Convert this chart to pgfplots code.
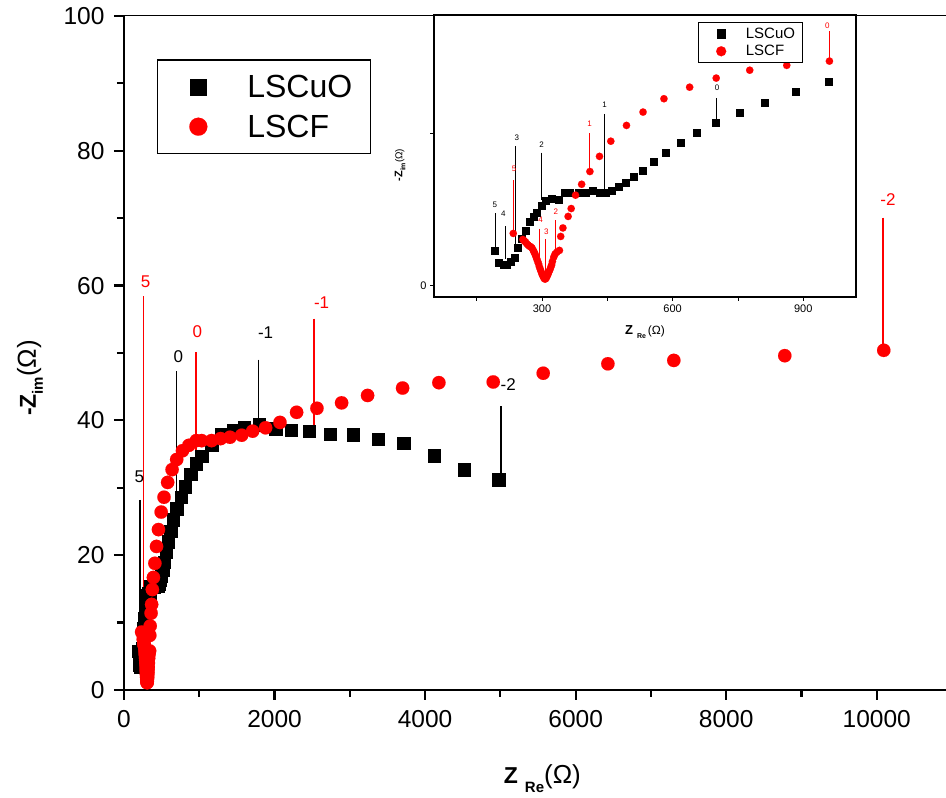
\documentclass[border=0pt]{standalone}
\usepackage{fontspec}
\setmainfont{Liberation Sans}
\usepackage{pgfplots}
\usepackage{pgfplotstable}
\pgfplotsset{compat=1.18}

\pgfplotsset{
  mainlegimg/.style={legend image code/.code={\path[draw=none] (-23pt,0pt) -- (49pt,0pt); \path[##1, draw=none] plot coordinates {(0pt,0pt)};}},
  insetlegimg/.style={legend image code/.code={\path[draw=none] (-15.7pt,0pt) -- (24.7pt,0pt); \path[##1, draw=none] plot coordinates {(0pt,0pt)};}},
}

\pgfplotstableread{
x y
192 5.8
200 3.8
211 3.4
219 3.5
228 4.0
238 4.7
243 6.2
253 7.8
262 9.1
272 10.6
280 11.3
288 12.0
299 13.2
308 14.0
322 14.3
337 14.2
351 15.4
364 15.4
385 15.4
401 15.3
415 15.6
431 15.4
445 15.4
459 15.7
475 16.3
491 17.0
510 17.9
531 19.0
555 20.5
583 22.0
617 23.6
655 25.3
698 26.9
754 28.6
810 30.2
882 32.0
957 33.6
1032 34.7
1164 36.4
1297 37.9
1452 38.6
1598 39.0
1797 39.4
2014 38.8
2218 38.6
2461 38.4
2736 38.0
3046 37.9
3378 37.2
3714 36.6
4117 34.8
4520 32.7
4976 31.2
}\lscuo

\pgfplotstableread{
x y
234 8.6
256 7.6
259 7.4
262 7.2
265 6.9
268 6.7
271 6.5
274 6.4
277 6.2
280 5.8
282 5.5
284 5.2
286 4.8
288 4.4
290 4.0
292 3.6
294 3.1
296 2.7
298 2.3
300 1.9
302 1.6
304 1.3
306 1.1
308 1.1
310 1.3
312 1.6
314 1.9
316 2.3
318 2.6
320 3.0
322 3.4
324 4.0
327 4.7
330 5.2
334 5.5
340 5.8
343 8.1
348 9.5
360 11.4
367 12.7
377 14.9
391 16.7
410 18.8
432 21.3
458 23.8
494 26.4
532 28.6
580 30.8
639 32.7
700 34.2
777 35.5
862 36.3
960 37.0
1032 37.0
1164 37.0
1284 37.3
1408 37.5
1563 37.8
1709 38.4
1881 38.9
2072 39.7
2293 41.2
2563 41.8
2891 42.6
3236 43.7
3701 44.8
4183 45.6
4905 45.7
5569 47.0
6428 48.4
7304 48.9
8778 49.6
10093 50.4
}\lscf

\begin{document}
\begin{tikzpicture}
\useasboundingbox (-124pt,-108pt) rectangle (822pt,690pt);
\begin{axis}[
  at={(0pt,0pt)}, anchor=south west, scale only axis,
  width=822pt, height=674pt,
  xmin=0, xmax=10920, ymin=0, ymax=100,
  axis x line*=bottom, axis y line*=left,
  axis line style={line width=2.4pt, -},
  scaled x ticks=false, scaled y ticks=false,
  xtick={0,2000,4000,6000,8000,10000},
  xticklabels={0,2000,4000,6000,8000,10000},
  minor xtick={1000,3000,5000,7000,9000},
  ytick={0,20,40,60,80,100},
  yticklabels={0,20,40,60,80,100},
  minor ytick={10,30,50,70,90},
  tick align=outside,
  major tick length=10pt, minor tick length=7pt,
  every tick/.style={black, line width=2.2pt},
  ticklabel style={font=\fontsize{24.5}{28}\selectfont},
  xticklabel style={yshift=-7pt},
  yticklabel style={xshift=-6pt},
  /pgf/number format/assume math mode=true,
  clip=false,
  xlabel={{\bfseries\fontsize{23}{26}\selectfont Z}\hspace{7pt}\raisebox{-9pt}{\bfseries\fontsize{15}{18}\selectfont Re}{\fontsize{26}{30}\selectfont(Ω)}},
  ylabel={{\bfseries\fontsize{23}{26}\selectfont -Z}\raisebox{-7pt}{\bfseries\fontsize{15}{18}\selectfont im}{\fontsize{26}{30}\selectfont(Ω)}},
  xlabel style={at={(rel axis cs:0.509,-0.131)}, anchor=center},
  ylabel style={at={(rel axis cs:-0.1144,0.463)}, anchor=center},
  legend style={at={(rel axis cs:0.0398,0.9358)}, anchor=north west, draw=black, line width=1.3pt, fill=white,
    inner xsep=18pt, inner ysep=15pt, row sep=16pt, font=\fontsize{32}{36}\selectfont,
    nodes={inner sep=0pt}, cells={anchor=west}},
]
\draw[line width=1pt] (rel axis cs:0,1) -- (rel axis cs:1,1);
\addlegendimage{only marks, mark=square*, mark size=8pt, mark options={draw=black, fill=black, line width=0.1pt}, mainlegimg}
\addlegendentry{LSCuO}
\addlegendimage{only marks, mark=*, mark size=9pt, mark options={draw=red, fill=red, line width=0.1pt}, mainlegimg}
\addlegendentry{LSCF}
\addplot[only marks, mark=square*, mark size=6.2pt, mark options={draw=black, fill=black, line width=0.1pt}, forget plot] table {\lscuo};
\addplot[only marks, mark=*, mark size=6.7pt, mark options={draw=red, fill=red, line width=0.1pt}, forget plot] table {\lscf};
% annotations
\addplot[black, line width=1.3pt, forget plot] coordinates {(212,28.2) (212,9.4)};
\addplot[red, line width=1.3pt, forget plot] coordinates {(257,58.4) (257,9.4)};
\addplot[black, line width=1.3pt, forget plot] coordinates {(700,47.3) (700,29.2)};
\addplot[red, line width=1.3pt, forget plot] coordinates {(956,50.1) (956,33.7)};
\addplot[black, line width=1.3pt, forget plot] coordinates {(1789,49.0) (1789,39.6)};
\addplot[red, line width=1.3pt, forget plot] coordinates {(2523,55.1) (2523,37.4)};
\addplot[black, line width=1.3pt, forget plot] coordinates {(5007,42.1) (5007,31.7)};
\addplot[red, line width=1.3pt, forget plot] coordinates {(10083,70.1) (10083,50.5)};
\node[black, font=\fontsize{17}{20}\selectfont] at (axis cs:204,31.6) {5};
\node[red, font=\fontsize{17}{20}\selectfont] at (axis cs:288,60.6) {5};
\node[black, font=\fontsize{17}{20}\selectfont] at (axis cs:722,49.5) {0};
\node[red, font=\fontsize{17}{20}\selectfont] at (axis cs:974,53.1) {0};
\node[black, font=\fontsize{17}{20}\selectfont] at (axis cs:1881,53.0) {-1};
\node[red, font=\fontsize{17}{20}\selectfont] at (axis cs:2625,57.5) {-1};
\node[black, font=\fontsize{17}{20}\selectfont] at (axis cs:5104,45.3) {-2};
\node[red, font=\fontsize{17}{20}\selectfont] at (axis cs:10150,72.8) {-2};
\end{axis}

\begin{axis}[
  at={(310pt,393pt)}, anchor=south west, scale only axis,
  width=422pt, height=282pt,
  xmin=52, xmax=1021, ymin=-1.88, ymax=44.6,
  axis background/.style={fill=white},
  axis line style={line width=1.3pt},
  xtick={300,600,900}, xticklabels={300,600,900},
  minor xtick={150,450,750},
  ytick={0,25}, yticklabels={0,{}},
  tick pos=left, tick align=outside,
  major tick length=4pt, minor tick length=4pt,
  every tick/.style={black, line width=0.9pt},
  ticklabel style={font=\fontsize{11}{13}\selectfont},
  /pgf/number format/assume math mode=true,
  xlabel={{\bfseries\fontsize{13}{15}\selectfont Z}\hspace{4pt}\raisebox{-4pt}{\bfseries\fontsize{7}{8}\selectfont Re}\hspace{2pt}{\fontsize{12}{14}\selectfont(Ω)}},
  ylabel={{\bfseries\fontsize{11}{13}\selectfont -Z}\raisebox{-3pt}{\bfseries\fontsize{7}{8}\selectfont im}{\fontsize{10}{12}\selectfont(Ω)}},
  xlabel style={at={(rel axis cs:0.5,-0.124)}, anchor=center},
  ylabel style={at={(rel axis cs:-0.0806,0.468)}, anchor=center},
  legend style={at={(rel axis cs:0.6256,0.9762)}, anchor=north west, draw=black, line width=1pt, fill=white,
    inner xsep=7pt, inner ysep=5.5pt, row sep=5.6pt, font=\fontsize{15}{18}\selectfont,
    nodes={inner sep=0pt}, cells={anchor=west}},
]
\addlegendimage{only marks, mark=square*, mark size=4.2pt, mark options={draw=black, fill=black, line width=0.1pt}, insetlegimg}
\addlegendentry{LSCuO}
\addlegendimage{only marks, mark=*, mark size=5pt, mark options={draw=red, fill=red, line width=0.1pt}, insetlegimg}
\addlegendentry{LSCF}
\addplot[only marks, mark=square*, mark size=3.5pt, mark options={draw=black, fill=black, line width=0.1pt}, forget plot] table {\lscuo};
\addplot[only marks, mark=*, mark size=3.7pt, mark options={draw=red, fill=red, line width=0.1pt}, forget plot] table {\lscf};
% annotations
\addplot[black, line width=0.9pt, forget plot] coordinates {(192,11.9) (192,6.1)};
\addplot[black, line width=0.9pt, forget plot] coordinates {(215,9.8) (215,4.4)};
\addplot[red, line width=0.9pt, forget plot] coordinates {(234,17.4) (234,8.8)};
\addplot[black, line width=0.9pt, forget plot] coordinates {(240,23.0) (240,6.9)};
\addplot[black, line width=0.9pt, forget plot] coordinates {(299,21.9) (299,14.1)};
\addplot[red, line width=0.9pt, forget plot] coordinates {(294,9.4) (294,1.9)};
\addplot[red, line width=0.9pt, forget plot] coordinates {(307,7.6) (307,1.4)};
\addplot[red, line width=0.9pt, forget plot] coordinates {(330,10.8) (330,5.2)};
\addplot[red, line width=0.9pt, forget plot] coordinates {(409,25.1) (409,19.0)};
\addplot[black, line width=0.9pt, forget plot] coordinates {(443,28.3) (443,15.7)};
\addplot[black, line width=0.9pt, forget plot] coordinates {(700,30.9) (700,27.3)};
\addplot[red, line width=0.9pt, forget plot] coordinates {(959,41.9) (959,37.0)};
\node[black, font=\fontsize{8}{9}\selectfont] at (axis cs:192,13.4) {5};
\node[black, font=\fontsize{8}{9}\selectfont] at (axis cs:211,11.9) {4};
\node[red, font=\fontsize{8}{9}\selectfont] at (axis cs:236,19.2) {5};
\node[black, font=\fontsize{8}{9}\selectfont] at (axis cs:242,24.4) {3};
\node[black, font=\fontsize{8}{9}\selectfont] at (axis cs:299,23.2) {2};
\node[red, font=\fontsize{8}{9}\selectfont] at (axis cs:297,10.8) {4};
\node[red, font=\fontsize{8}{9}\selectfont] at (axis cs:310,8.9) {3};
\node[red, font=\fontsize{8}{9}\selectfont] at (axis cs:332,12.1) {2};
\node[red, font=\fontsize{8}{9}\selectfont] at (axis cs:409,26.7) {1};
\node[black, font=\fontsize{8}{9}\selectfont] at (axis cs:444,29.8) {1};
\node[black, font=\fontsize{8}{9}\selectfont] at (axis cs:702,32.6) {0};
\node[red, font=\fontsize{8}{9}\selectfont] at (axis cs:955,42.9) {0};
\end{axis}
\end{tikzpicture}
\end{document}
